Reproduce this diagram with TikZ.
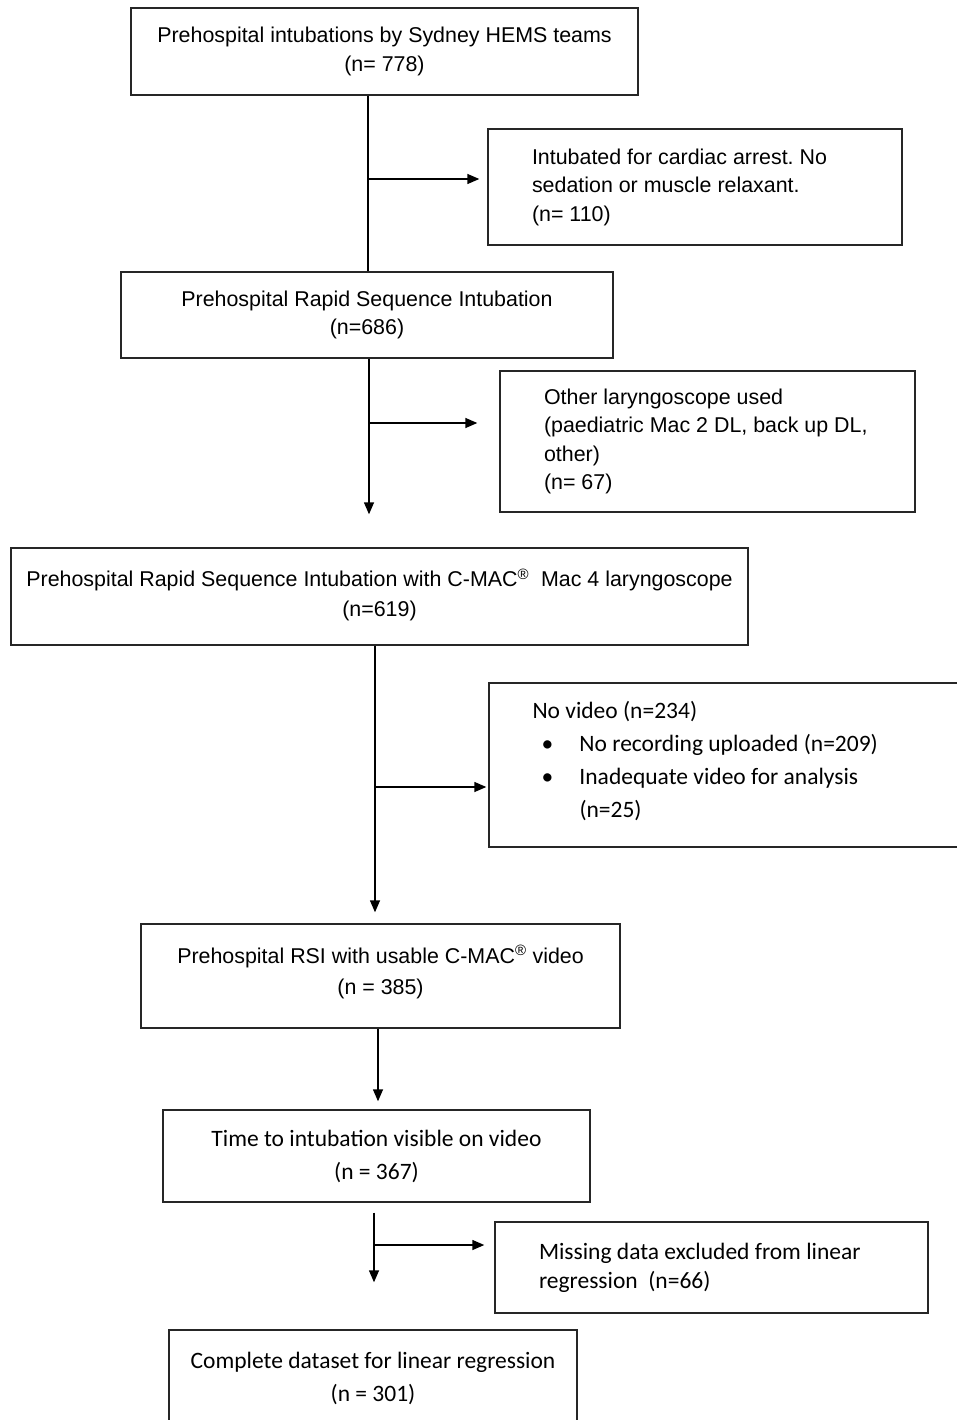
\documentclass[tikz,border=0pt]{standalone}
\usepackage{fontspec}
\setmainfont{Liberation Sans}
\newfontfamily\calfont{Carlito}
\usetikzlibrary{arrows.meta}
\tikzset{
  box/.style={draw=black!85, line width=1.4pt, inner sep=0pt},
  afont/.style={font=\fontsize{21.4}{28.5}\selectfont},
  cfont/.style={font=\calfont\fontsize{23.5}{33}\selectfont},
  conn/.style={draw=black, line width=1.4pt},
  arr/.style={conn, -{Triangle[length=12pt,width=10pt]}}
}
\begin{document}
\frenchspacing
\begin{tikzpicture}[x=1pt,y=1pt]
\useasboundingbox (0,0) rectangle (957,-1420);
\clip (0,0) rectangle (957,-1420);
% boxes
\node[box, afont, align=flush center, minimum width=507, minimum height=87] (b1) at (384.5,-51.5)
  {Prehospital intubations by Sydney HEMS teams\\(n= 778)};
\node[box, afont, align=flush left, text width=414-88, inner xsep=44, minimum height=116] (b2) at (695,-187)
  {Intubated for cardiac arrest. No\\sedation or muscle relaxant.\\(n= 110)};
\node[box, afont, align=flush center, minimum width=492, minimum height=86] (b3) at (367,-315)
  {Prehospital Rapid Sequence Intubation\\(n=686)};
\node[box, afont, align=flush left, text width=415-88, inner xsep=44, minimum height=141] (b4) at (707.5,-441.5)
  {Other laryngoscope used\\(paediatric Mac 2 DL, back up DL,\\other)\\(n= 67)};
\node[box, minimum width=737, minimum height=97] (b5) at (379.5,-596.5) {};
\node[font=\fontsize{21.4}{30}\selectfont, align=flush center, inner sep=0pt] (t5) at ([yshift=1.5pt]b5.center)
  {Prehospital Rapid Sequence Intubation with C-MAC\textsuperscript{®}\ \ Mac 4 laryngoscope\\(n=619)};
\node[box, minimum width=511, minimum height=164] (b6) at (744.5,-765) {};
\node[cfont, align=flush left, inner sep=0pt, anchor=west] (t6) at ([xshift=44pt,yshift=4pt]b6.west)
  {No video (n=234)\\
   \hspace*{9pt}\makebox[38pt][l]{•}No recording uploaded (n=209)\\
   \hspace*{9pt}\makebox[38pt][l]{•}Inadequate video for analysis\\
   \hspace*{47pt}(n=25)};
\node[box, minimum width=479, minimum height=104] (b7) at (380.5,-976) {};
\node[font=\fontsize{21.4}{31}\selectfont, align=flush center, inner sep=0pt] (t7) at ([yshift=4pt]b7.center)
  {Prehospital RSI with usable C-MAC\textsuperscript{®} video\\(n = 385)};
\node[box, cfont, align=flush center, minimum width=427, minimum height=92] (b8) at (376.5,-1156)
  {Time to intubation visible on video\\(n = 367)};
\node[box, font=\calfont\fontsize{23.5}{29}\selectfont, align=flush left, text width=433-88, inner xsep=44, minimum height=91] (b9) at (711.5,-1267.5)
  {Missing data excluded from linear\\regression\ \ (n=66)};
\node[box, cfont, align=flush center, minimum width=408, minimum height=96] (b10) at (373,-1378)
  {Complete dataset for linear regression\\(n = 301)};
% connector coordinates
\coordinate (s1) at (368,-179);
\coordinate (s2) at (369,-423);
\coordinate (s3) at (375,-787);
\coordinate (s4) at (374,-1245);
% connectors
\path[conn] (b1.south -| s1) -- (b3.north -| s1);
\path[arr, shorten >=8pt] (s1) -- (b2.west |- s1);
\path[arr, shorten >=33pt] (b3.south -| s2) -- (b5.north -| s2);
\path[arr, shorten >=22pt] (s2) -- (b4.west |- s2);
\path[arr, shorten >=11pt] (b5.south -| s3) -- (b7.north -| s3);
\path[arr, shorten >=2pt] (s3) -- (b6.west |- s3);
\path[arr, shorten >=8pt] ([xshift=-2.5pt]b7.south) -- ([xshift=-2.5pt]b7.south |- b8.north);
\path[arr, shorten <=10pt, shorten >=47pt] (b8.south -| s4) -- (b10.north -| s4);
\path[arr, shorten >=10pt] (s4) -- (b9.west |- s4);
\end{tikzpicture}
\end{document}
